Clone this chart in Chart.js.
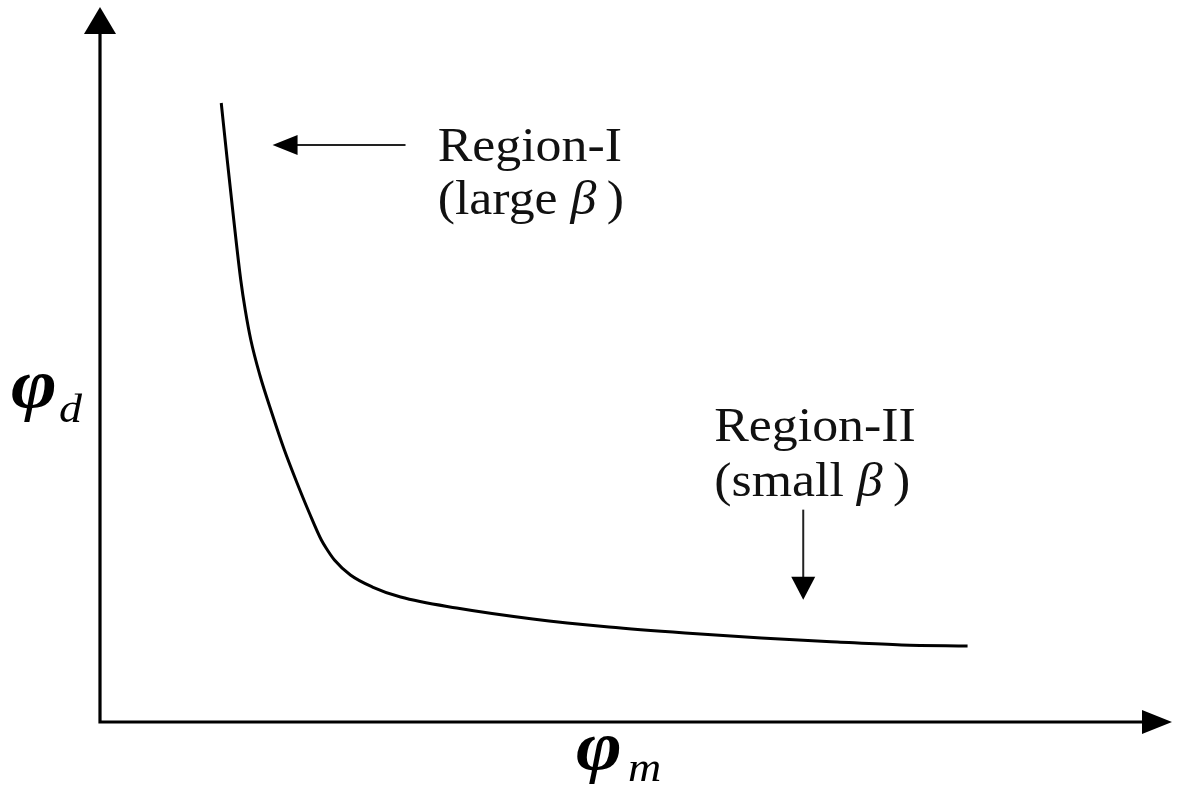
<!DOCTYPE html>
<html>
<head>
<meta charset="utf-8">
<script src="https://cdn.jsdelivr.net/npm/chart.js@4.4.1/dist/chart.umd.min.js"></script>
<style>
  html, body { margin: 0; padding: 0; background: #fff; }
  #wrap { width: 1177px; height: 787px; }
</style>
</head>
<body>
<div id="wrap"><canvas id="c" width="1177" height="787"></canvas></div>
<script>
// φm (horizontal) and φd (vertical) along the curve, in axis units (0-100)
const phiM = [11.31, 11.87, 12.48, 13.13, 13.55, 14.07, 14.91, 16.03, 17.20, 18.27, 19.53, 20.65, 21.21, 21.87, 23.36, 25.42, 28.04, 33.27, 40.37, 47.48, 54.58, 61.68, 68.79, 74.77, 80.93];
const phiD = [86.57, 78.60, 70.21, 61.82, 57.62, 53.43, 48.53, 43.22, 38.04, 33.85, 29.23, 25.45, 24.06, 22.66, 20.56, 18.88, 17.48, 15.94, 14.41, 13.29, 12.45, 11.75, 11.19, 10.77, 10.63];

// Region annotations
const regionLines = [
  ["Region-I", "(large ", "β", "\u2009)"],
  ["Region-II", "(small ", "β", "\u2009)"]
];

const curve = phiM.map((x, i) => ({ x: x, y: phiD[i] }));

const SERIF = '"Liberation Serif", "Times New Roman", serif';
const STRETCH = 1.08;

function arrowHead(ctx, tipX, tipY, dx, dy, len, half) {
  // dx,dy = unit direction of the arrow
  const bx = tipX - dx * len, by = tipY - dy * len;
  const px = -dy, py = dx;
  ctx.beginPath();
  ctx.moveTo(tipX, tipY);
  ctx.lineTo(bx + px * half, by + py * half);
  ctx.lineTo(bx - px * half, by - py * half);
  ctx.closePath();
  ctx.fill();
}

// draws a run of text pieces [font, text] side by side, stretched horizontally
function drawRun(ctx, pieces, x, y, sx) {
  ctx.save();
  ctx.translate(x, y);
  ctx.scale(sx || STRETCH, 1);
  let cx = 0;
  for (const [font, txt] of pieces) {
    ctx.font = font;
    ctx.fillText(txt, cx, 0);
    cx += ctx.measureText(txt).width;
  }
  ctx.restore();
}

const decorations = {
  id: 'decorations',
  afterDraw(chart) {
    const ctx = chart.ctx;
    const xs = chart.scales.x, ys = chart.scales.y;
    const ox = xs.getPixelForValue(0), oy = ys.getPixelForValue(0);
    const top = ys.getPixelForValue(100), right = xs.getPixelForValue(100);
    ctx.save();
    ctx.fillStyle = '#000';
    ctx.strokeStyle = '#000';

    // axes with arrowheads
    ctx.lineWidth = 3.2;
    ctx.beginPath();
    ctx.moveTo(ox, oy + 1.5);
    ctx.lineTo(ox, top + 20);
    ctx.moveTo(ox - 1.5, oy);
    ctx.lineTo(right - 20, oy);
    ctx.stroke();
    arrowHead(ctx, ox, top, 0, -1, 27, 16);
    arrowHead(ctx, right, oy, 1, 0, 30, 12);

    // annotation arrows
    ctx.lineWidth = 2;
    ctx.strokeStyle = '#222';
    ctx.fillStyle = '#000';
    const a1y = ys.getPixelForValue(80.7);
    const a1x0 = xs.getPixelForValue(28.5), a1x1 = xs.getPixelForValue(16.1);
    ctx.beginPath(); ctx.moveTo(a1x0, a1y); ctx.lineTo(a1x1 + 15, a1y); ctx.stroke();
    arrowHead(ctx, a1x1, a1y, -1, 0, 25, 10);

    const a2x = xs.getPixelForValue(65.6);
    const a2y0 = ys.getPixelForValue(29.7), a2y1 = ys.getPixelForValue(17.1);
    ctx.beginPath(); ctx.moveTo(a2x, a2y0); ctx.lineTo(a2x, a2y1 - 15); ctx.stroke();
    arrowHead(ctx, a2x, a2y1, 0, 1, 23, 12);

    // region labels
    ctx.fillStyle = '#111';
    ctx.textBaseline = 'alphabetic';
    const norm = '48px ' + SERIF, ital = 'italic 48px ' + SERIF;
    const spots = [[31.5, 78.5, 71.1], [57.3, 39.3, 31.6]];
    regionLines.forEach((ln, i) => {
      const [vx, vy1, vy2] = spots[i];
      const px = xs.getPixelForValue(vx);
      drawRun(ctx, [[norm, ln[0]]], px, ys.getPixelForValue(vy1));
      drawRun(ctx, [[norm, ln[1]], [ital, ln[2]], [norm, ln[3]]], px, ys.getPixelForValue(vy2));
    });

    // axis symbols
    ctx.fillStyle = '#000';
    const phiFont = 'italic bold 70px ' + SERIF, subFont = 'italic 40px ' + SERIF;
    // vertical axis: φd
    drawRun(ctx, [[phiFont, 'φ']], ox - 89, oy - 315, 1.12);
    drawRun(ctx, [[subFont, 'd']], ox - 41, oy - 300, 1.15);
    // horizontal axis: φm
    drawRun(ctx, [[phiFont, 'φ']], ox + 476, oy + 47, 1.12);
    drawRun(ctx, [[subFont, 'm']], ox + 528, oy + 59, 1.15);
    ctx.restore();
  }
};

new Chart(document.getElementById('c'), {
  type: 'scatter',
  data: {
    datasets: [{
      data: curve,
      showLine: true,
      borderColor: '#000',
      borderWidth: 3,
      pointRadius: 0,
      cubicInterpolationMode: 'monotone',
      fill: false
    }]
  },
  options: {
    responsive: false,
    animation: false,
    events: [],
    layout: { padding: { left: 100, right: 5, top: 7, bottom: 65 } },
    plugins: { legend: { display: false }, tooltip: { enabled: false } },
    scales: {
      x: { type: 'linear', min: 0, max: 100, display: false },
      y: { type: 'linear', min: 0, max: 100, display: false }
    }
  },
  plugins: [decorations]
});
</script>
</body>
</html>
